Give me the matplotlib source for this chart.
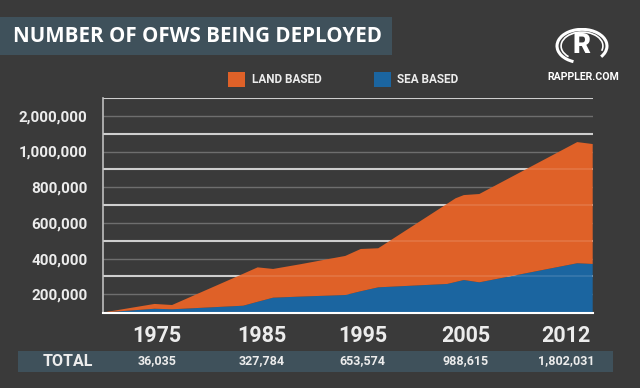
import matplotlib
matplotlib.use("Agg")
import matplotlib.pyplot as plt
import matplotlib.transforms as mtransforms
from matplotlib.patches import Rectangle, Arc
import numpy as np

# odczyty z wykresu (os x w "latach" wykresu, wartosci w jednostkach osi)
timeline = [1970, 1975, 1976.7, 1983.6, 1985, 1986.5, 1989.1, 1993.5, 1995,
            1996.7, 2003.4, 2004.2, 2005, 2006.5, 2016, 2017.5]
sea_based = [98000, 119000, 116000, 136000, 158000, 181000, 187000, 196000, 217000,
             239000, 258000, 269000, 280000, 267000, 374000, 370000]
land_based = [0, 27000, 24000, 179000, 193000, 161000, 181000, 219000, 237000,
              219000, 450000, 469000, 476000, 495000, 679000, 672000]

year_labels = ["1975", "1985", "1995", "2005", "2012"]
total_labels = ["36,035", "327,784", "653,574", "988,615", "1,802,031"]
y_ticks = [200000, 400000, 600000, 800000, 1000000, 1200000]
y_tick_labels = ["200,000", "400,000", "600,000", "800,000", "1,000,000", "2,000,000"]
series_names = ["SEA BASED", "LAND BASED"]

bg = "#3a3a3a"
slate = "#3f515b"
orange = "#df6128"
blue = "#1b65a0"
txt = "#ececec"

W, H = 640, 388
fig = plt.figure(figsize=(6.4, 3.88), dpi=100, facecolor=bg)


def fx(px):
    return px / W


def fy(py):
    return 1 - py / H


ax = fig.add_axes([fx(103), fy(312.5), fx(592.7) - fx(103), (312.5 - 98) / H])
ax.set_facecolor(bg)
ax.set_xlim(1970, 2017.5)
ax.set_ylim(98000, 1300000)

# siatka: slabe linie przy etykietach, jasne pomiedzy
bright = np.arange(300000, 1300001, 200000)
for v in y_ticks:
    ax.axhline(v, color="#6e6e6e", lw=1.0, zorder=1)
for v in bright:
    ax.axhline(v, color="#c8c8c8", lw=1.5, zorder=1)

ax.stackplot(timeline, sea_based, land_based, colors=[blue, orange],
             labels=series_names, zorder=2, lw=0)

# linie przeswitujace przez wypelnienie
for v in bright:
    ax.axhline(v, color="white", lw=1.2, alpha=0.13, zorder=3)

for s in ["top", "right"]:
    ax.spines[s].set_visible(False)
ax.spines["left"].set_color("#bdbdbd")
ax.spines["left"].set_linewidth(1.2)
ax.spines["bottom"].set_color("white")
ax.spines["bottom"].set_linewidth(1.5)
ax.spines["bottom"].set_zorder(4)

ax.set_yticks(y_ticks)
ax.set_yticklabels(y_tick_labels, fontfamily="Roboto", fontweight="bold",
                   fontsize=11, color=txt)
ax.tick_params(axis="y", length=0, pad=11)
ax.set_xticks([])

# pas z suma (pod tekstami)
fig.patches.append(Rectangle((fx(18), fy(371.7)), fx(613) - fx(18), (371.7 - 350.7) / H,
                             transform=fig.transFigure, facecolor=slate, edgecolor="none",
                             zorder=-1))

# wiersz lat i sum
col_x = [1975.2, 1985.4, 1995.2, 2005.2, 2014.9]
tr = mtransforms.blended_transform_factory(ax.transData, fig.transFigure)
for xv, yl, tl in zip(col_x, year_labels, total_labels):
    ax.text(xv, fy(335.5), yl, transform=tr, ha="center", va="center",
            fontfamily="Roboto", fontweight="bold", fontsize=15.5, color=txt,
            clip_on=False)
    ax.text(xv, fy(361), tl, transform=tr, ha="center", va="center",
            fontfamily="Roboto", fontweight="bold", fontsize=9, color=txt,
            clip_on=False, zorder=5)

fig.text(fx(67.5), fy(361), "TOTAL", ha="center", va="center", fontfamily="Roboto",
         fontweight="bold", fontsize=11.5, color=txt)

# tytul
fig.patches.append(Rectangle((0, fy(55)), fx(392), (55 - 17.3) / H,
                             transform=fig.transFigure, facecolor=slate, edgecolor="none",
                             zorder=-1))
fig.text(fx(13), fy(36), "NUMBER OF OFWS BEING DEPLOYED", ha="left", va="center",
         fontfamily="Open Sans", fontweight="bold", fontsize=14.8, color="white")

# legenda
handles, labels = ax.get_legend_handles_labels()
leg = fig.legend(handles[::-1], labels[::-1], loc="center left",
                 bbox_to_anchor=(fx(228.3), fy(79.5)), ncol=2, frameon=False,
                 borderpad=0, borderaxespad=0, handlelength=1.45, handleheight=1.45,
                 handletextpad=0.55, columnspacing=4.4,
                 prop={"family": "Roboto", "weight": "bold", "size": 8.5})
for t in leg.get_texts():
    t.set_color(txt)

# logo
lax = fig.add_axes([fx(555), fy(64), fx(54), 36 / H])
lax.set_xlim(-1, 1)
lax.set_ylim(-1, 1)
lax.axis("off")
lax.add_patch(Arc((0, 0), 1.85, 1.85, theta1=-40, theta2=250, color="white", lw=2.2))
lax.add_patch(Arc((0, 0), 1.55, 1.55, theta1=-20, theta2=230, color="white", lw=1.2))
lax.text(0, 0.02, "R", ha="center", va="center", fontfamily="Roboto",
         fontweight="black", fontsize=20, color="white")
fig.text(fx(583.5), fy(76.5), "RAPPLER.COM", ha="center", va="center",
         fontfamily="Roboto", fontweight="bold", fontsize=7.6, color="white")

fig.savefig("out.png", dpi=100, facecolor=bg)
